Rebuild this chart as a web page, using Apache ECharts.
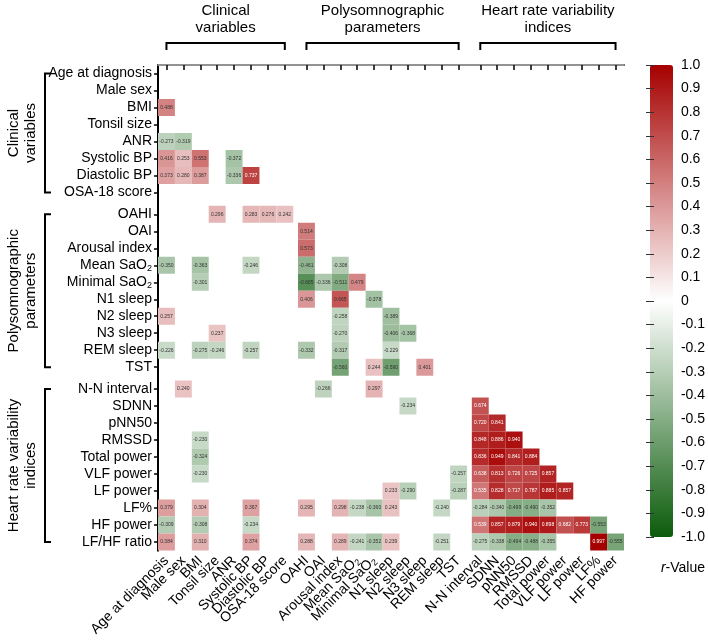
<!DOCTYPE html>
<html>
<head>
<meta charset="utf-8">
<script src="https://cdn.jsdelivr.net/npm/echarts@6/dist/echarts.min.js"></script>
<style>html,body{margin:0;padding:0;background:#fff}#c{width:708px;height:642px}</style>
</head>
<body>
<div id="c"></div>
<script>
// ---- data ----
const varNames = ['Age at diagnosis','Male sex','BMI','Tonsil size','ANR','Systolic BP','Diastolic BP','OSA-18 score',
  'OAHI','OAI','Arousal index','Mean SaO2','Minimal SaO2','N1 sleep','N2 sleep','N3 sleep','REM sleep','TST',
  'N-N interval','SDNN','pNN50','RMSSD','Total power','VLF power','LF power','LF%','HF power','LF/HF ratio'];
const rowNames = varNames;
const colNames = varNames.slice(0, 27);
const groupNames = ['Clinical\nvariables', 'Polysomnographic\nparameters', 'Heart rate variability\nindices'];
const groupStart = [0, 8, 18];
const groupEnd = [7, 17, 27];

// [row, col, r] — significant correlations only
const clinicalRowsData = [
  [2,0,0.488],
  [4,0,-0.273],[4,1,-0.319],
  [5,0,0.416],[5,1,0.253],[5,2,0.553],[5,4,-0.372],
  [6,0,0.373],[6,1,0.280],[6,2,0.387],[6,4,-0.336],[6,5,0.737]
];
const psgRowsData = [
  [8,3,0.296],[8,5,0.283],[8,6,0.276],[8,7,0.242],
  [9,8,0.514],
  [10,8,0.573],
  [11,0,-0.350],[11,2,-0.363],[11,5,-0.246],[11,8,-0.461],[11,10,-0.308],
  [12,2,-0.301],[12,8,-0.685],[12,9,-0.336],[12,10,-0.511],[12,11,0.479],
  [13,8,0.406],[13,10,0.665],[13,12,-0.378],
  [14,0,0.257],[14,10,-0.258],[14,13,-0.389],
  [15,3,0.237],[15,10,-0.270],[15,13,-0.406],[15,14,-0.368],
  [16,0,-0.226],[16,2,-0.275],[16,3,-0.246],[16,5,-0.257],[16,8,-0.332],[16,10,-0.317],[16,13,-0.229],
  [17,10,-0.560],[17,12,0.244],[17,13,-0.590],[17,15,0.401]
];
const hrvRowsData = [
  [18,1,0.240],[18,9,-0.266],[18,12,0.297],
  [19,14,-0.234],[19,18,0.674],
  [20,18,0.720],[20,19,0.841],
  [21,2,-0.230],[21,18,0.848],[21,19,0.886],[21,20,0.940],
  [22,2,-0.324],[22,18,0.836],[22,19,0.949],[22,20,0.841],[22,21,0.884],
  [23,2,-0.230],[23,17,-0.257],[23,18,0.638],[23,19,0.813],[23,20,0.726],[23,21,0.725],[23,22,0.857],
  [24,13,0.233],[24,14,-0.290],[24,17,-0.287],[24,18,0.535],[24,19,0.828],[24,20,0.717],[24,21,0.787],[24,22,0.885],[24,23,0.857],
  [25,0,0.379],[25,2,0.304],[25,5,0.367],[25,8,0.295],[25,10,0.298],[25,11,-0.238],[25,12,-0.360],[25,13,0.243],[25,16,-0.240],
  [25,18,-0.284],[25,19,-0.340],[25,20,-0.499],[25,21,-0.490],[25,22,-0.352],
  [26,0,-0.309],[26,2,-0.308],[26,5,-0.234],[26,18,0.539],[26,19,0.857],[26,20,0.879],[26,21,0.940],[26,22,0.898],[26,23,0.682],[26,24,0.773],[26,25,-0.553],
  [27,0,0.384],[27,2,0.310],[27,5,0.374],[27,8,0.288],[27,10,0.289],[27,11,-0.241],[27,12,-0.352],[27,13,0.239],[27,16,-0.251],
  [27,18,-0.275],[27,19,-0.338],[27,20,-0.494],[27,21,-0.488],[27,22,-0.355],[27,25,0.997],[27,26,-0.555]
];

// ---- layout helpers ----
const FONT = 'Arial, "Liberation Sans", sans-serif';
const GAP = 0.28;
function group(i) { return i >= 18 ? 2 : (i >= 8 ? 1 : 0); }
function pos(i) { return i + 0.5 + GAP * group(i); }
const xMax = pos(colNames.length - 1) + 0.5;
const yMax = pos(rowNames.length - 1) + 0.5;
const colPos = colNames.map((_, i) => pos(i));
const rowPos = rowNames.map((_, i) => pos(i));
// blank sentinel labels at both ends so that no real label gets dropped by min/max overlap handling
const colLabelPos = [0.01].concat(colPos, [xMax - 0.01]);
function lookup(arr, names, v) {
  const i = arr.findIndex(p => Math.abs(p - v) < 1e-6);
  if (i < 0) return '';
  return names[i].replace(/SaO2$/, 'SaO{s|2}');
}

const cells = clinicalRowsData.concat(psgRowsData, hrvRowsData)
  .map(d => [pos(d[1]), pos(d[0]), d[2], d[0], d[1]]);

const GRID = {left: 158, top: 65, width: 466, height: 485.5};

const labelStyle = {
  color: '#000', fontSize: 14, fontFamily: FONT, lineHeight: 16, hideOverlap: false,
  rich: { s: { fontSize: 9, fontFamily: FONT, verticalAlign: 'bottom', lineHeight: 8, color: '#000' } }
};

const chart = echarts.init(document.getElementById('c'), null, {renderer: 'canvas'});
chart.setOption({
  animation: false,
  backgroundColor: '#fff',
  grid: [
    Object.assign({}, GRID),
    {left: 650, top: 65, width: 23, height: 472}
  ],
  xAxis: [
    {
      type: 'value', gridIndex: 0, min: 0, max: xMax, position: 'bottom',
      splitLine: {show: false},
      axisLine: {show: true, lineStyle: {color: '#000', width: 2}},
      axisTick: {show: true, length: 5, lineStyle: {color: '#000', width: 1.5}, customValues: colPos},
      axisLabel: Object.assign({rotate: 45, margin: 8, customValues: colLabelPos,
        showMinLabel: false, showMaxLabel: false,
        formatter: v => lookup(colPos, colNames, v)}, labelStyle)
    },
    {
      type: 'value', gridIndex: 0, min: 0, max: xMax, position: 'top',
      splitLine: {show: false}, axisTick: {show: false}, axisLabel: {show: false},
      axisLine: {show: true, lineStyle: {color: '#c4c4c4', width: 1.5}}
    },
    {type: 'value', gridIndex: 1, min: 0, max: 1, show: false}
  ],
  yAxis: [
    {
      type: 'value', gridIndex: 0, min: 0, max: yMax, inverse: true, position: 'left',
      splitLine: {show: false},
      axisLine: {show: true, lineStyle: {color: '#000', width: 2}},
      axisTick: {show: true, length: 4, lineStyle: {color: '#000', width: 1.5}, customValues: rowPos},
      axisLabel: Object.assign({margin: 6, customValues: rowPos, showMinLabel: true, showMaxLabel: true,
        formatter: v => lookup(rowPos, rowNames, v)}, labelStyle)
    },
    {
      type: 'value', gridIndex: 0, min: 0, max: yMax, inverse: true, position: 'right',
      splitLine: {show: false}, axisTick: {show: false}, axisLabel: {show: false},
      axisLine: {show: true, lineStyle: {color: '#000', width: 2}}
    },
    {
      type: 'value', gridIndex: 1, min: -1, max: 1, interval: 0.1, position: 'right', z: 10,
      splitLine: {show: false}, axisLine: {show: false},
      axisTick: {show: true, inside: true, length: 4, lineStyle: {color: '#333', width: 1}},
      axisLabel: {margin: 8, color: '#000', fontSize: 14, fontFamily: FONT,
        formatter: v => (Math.abs(v) < 1e-9 ? '0' : v.toFixed(1))}
    },
    {
      type: 'value', gridIndex: 1, min: -1, max: 1, interval: 0.1, position: 'left', z: 10,
      splitLine: {show: false}, axisLine: {show: false}, axisLabel: {show: false},
      axisTick: {show: true, inside: true, length: 4, lineStyle: {color: '#333', width: 1}}
    }
  ],
  visualMap: {
    type: 'continuous', min: -1, max: 1, dimension: 2, seriesIndex: 0,
    calculable: false, left: 650, top: 65, itemWidth: 23, itemHeight: 472,
    padding: 0, text: null, showLabel: false,
    inRange: {color: ['#0b5b0b', '#ffffff', '#a60000']}
  },
  series: [{
    type: 'custom', xAxisIndex: 0, yAxisIndex: 0,
    encode: {x: 0, y: 1},
    data: cells,
    renderItem: function (params, api) {
      const xc = api.value(0), yc = api.value(1), v = api.value(2), col = api.value(4);
      const p0 = api.coord([xc - 0.5, yc - 0.5]);
      const p1 = api.coord([xc + 0.5, yc + 0.5]);
      const x = Math.min(p0[0], p1[0]), y = Math.min(p0[1], p1[1]);
      const w = Math.abs(p1[0] - p0[0]), h = Math.abs(p1[1] - p0[1]);
      const light = v > 0.7 || (v > 0.5 && col >= 18);
      return {
        type: 'group',
        children: [
          {type: 'rect', shape: {x: x, y: y, width: w, height: h}, style: {fill: api.visual('color')}},
          {type: 'text', x: x + w / 2, y: y + h / 2,
           style: {text: v.toFixed(3), fill: light ? '#fff' : '#333', font: '5px ' + FONT,
                   align: 'center', verticalAlign: 'middle'}}
        ]
      };
    }
  }]
});

// ---- group headers and brackets ----
function px(x, y) { return chart.convertToPixel({gridIndex: 0}, [x, y]); }
const g = [];
const topY = 43, topTick = 7;
const leftX = 45, leftTick = 6;
for (let k = 0; k < 3; k++) {
  const c0 = groupStart[k], c1 = Math.min(groupEnd[k], colNames.length - 1);
  const xa = px(pos(c0), 0)[0], xb = px(pos(c1), 0)[0];
  g.push({type: 'polyline', z: 100, shape: {points: [[xa, topY + topTick], [xa, topY], [xb, topY], [xb, topY + topTick]]},
          style: {stroke: '#000', lineWidth: 2, fill: null}});
  g.push({type: 'text', z: 100, x: (xa + xb) / 2, y: 19,
          style: {text: groupNames[k], font: '15px ' + FONT, fill: '#000', align: 'center', verticalAlign: 'middle', lineHeight: 17}});
  const r0 = groupStart[k], r1 = groupEnd[k];
  const ya = px(0, pos(r0))[1], yb = px(0, pos(r1))[1];
  g.push({type: 'polyline', z: 100, shape: {points: [[leftX + leftTick, ya], [leftX, ya], [leftX, yb], [leftX + leftTick, yb]]},
          style: {stroke: '#000', lineWidth: 2, fill: null}});
  g.push({type: 'text', z: 100, x: 22, y: (ya + yb) / 2, rotation: Math.PI / 2,
          style: {text: groupNames[k], font: '15px ' + FONT, fill: '#000', align: 'center', verticalAlign: 'middle', lineHeight: 17}});
}
g.push({type: 'text', z: 100, x: 683, y: 568,
        style: {text: '{i|r}-Value', font: '14px ' + FONT, fill: '#000', align: 'center', verticalAlign: 'middle',
                rich: {i: {fontStyle: 'italic', fontSize: 14, fontFamily: FONT}}}});
chart.setOption({graphic: g});
</script>
</body>
</html>
